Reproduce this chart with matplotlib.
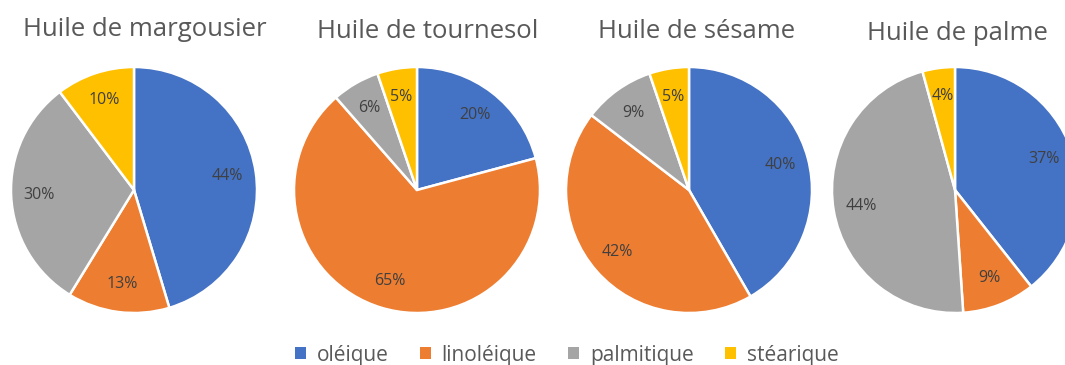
import numpy as np
import matplotlib.pyplot as plt
from matplotlib.patches import Patch

plt.rcParams['font.family'] = ['Open Sans', 'DejaVu Sans']

acides = ["oléique", "linoléique", "palmitique", "stéarique"]
couleurs = ["#4472C4", "#ED7D31", "#A5A5A5", "#FFC000"]

huiles = ["Huile de margousier", "Huile de tournesol", "Huile de sésame", "Huile de palme"]
margousier = [44, 13, 30, 10]
tournesol = [20, 65, 6, 5]
sesame = [40, 42, 9, 5]
palme = [37, 9, 44, 4]
parts = [margousier, tournesol, sesame, palme]

W, H = 1065, 365
fig = plt.figure(figsize=(W / 100, H / 100), dpi=100)

# pie centres in pixels (x, y from top) and radius
centres = [(134, 190), (417, 190), (689, 190), (955, 190)]
R = 123
titres_xy = [(145, 30), (428, 31), (697, 32), (957, 34)]

for nom, vals, (cx, cy), (tx, ty) in zip(huiles, parts, centres, titres_xy):
    ax = fig.add_axes([(cx - R) / W, 1 - (cy + R) / H, 2 * R / W, 2 * R / H])
    wedges, _ = ax.pie(vals, colors=couleurs, startangle=90, counterclock=False,
                       radius=1, wedgeprops=dict(edgecolor="white", linewidth=1.8))
    for w, v in zip(wedges, vals):
        ang = np.deg2rad((w.theta1 + w.theta2) / 2)
        r = 0.77
        ax.text(r * np.cos(ang), r * np.sin(ang), f"{v}%", ha="center", va="center",
                fontsize=11.5, color="#404040")
    ax.set_xlim(-1, 1)
    ax.set_ylim(-1, 1)
    ax.set_aspect("equal")
    ax.axis("off")
    fig.text(tx / W, 1 - ty / H, nom, ha="center", va="center", fontsize=18.5, color="#595959")

handles = [Patch(facecolor=c, edgecolor="none") for c in couleurs]
fig.legend(handles, acides, loc="center", bbox_to_anchor=(0.532, 1 - 355 / H), ncol=4,
           frameon=False, fontsize=15, labelcolor="#595959", handlelength=0.55,
           handleheight=0.55, handletextpad=0.5, columnspacing=1.5)

fig.savefig("out.png", dpi=100)
